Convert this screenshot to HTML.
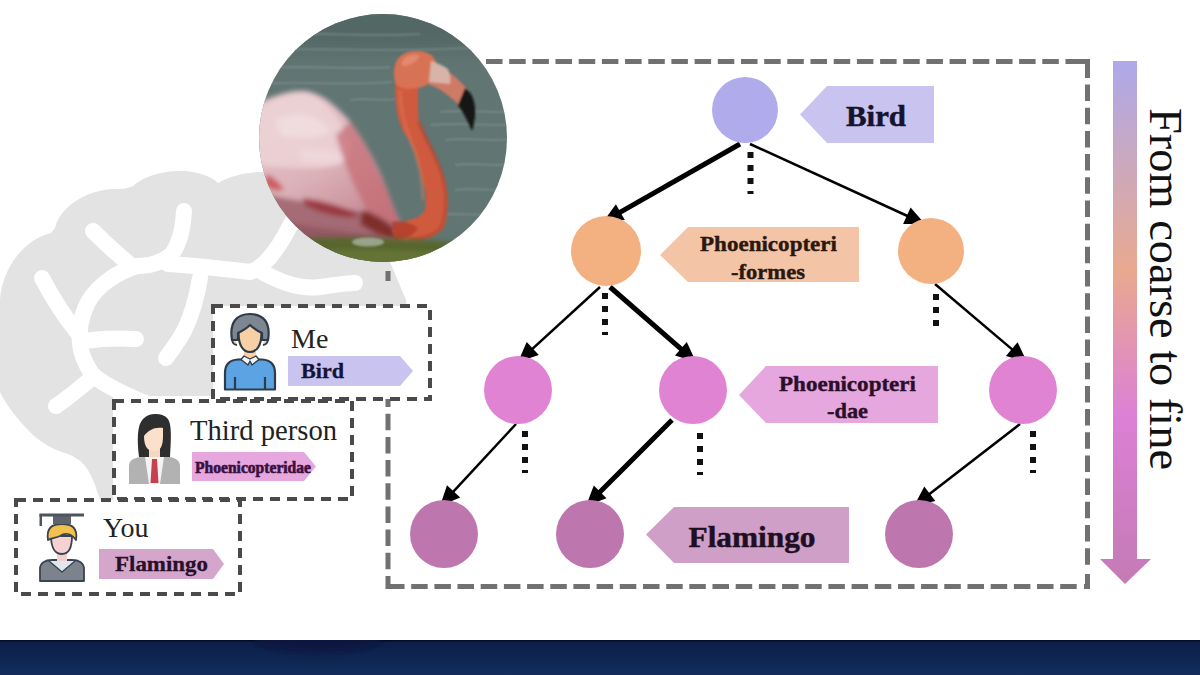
<!DOCTYPE html>
<html><head><meta charset="utf-8">
<style>
html,body{margin:0;padding:0;background:#fff;width:1200px;height:675px;overflow:hidden}
svg{display:block}
text{font-family:"Liberation Serif",serif}
</style></head>
<body>
<svg width="1200" height="675" viewBox="0 0 1200 675">
<defs>
  <linearGradient id="garrow" x1="0" y1="0" x2="0" y2="1">
    <stop offset="0" stop-color="#aea8ea"/>
    <stop offset="0.40" stop-color="#e9a98f"/>
    <stop offset="0.68" stop-color="#dc80d6"/>
    <stop offset="1" stop-color="#c47ab4"/>
  </linearGradient>
  <linearGradient id="gband" x1="0" y1="0" x2="0" y2="1">
    <stop offset="0" stop-color="#0c1e46"/>
    <stop offset="1" stop-color="#122c5c"/>
  </linearGradient>
  <filter id="fblur1" x="-20%" y="-20%" width="140%" height="140%"><feGaussianBlur stdDeviation="1.2"/></filter><filter id="fblur2" x="-20%" y="-20%" width="140%" height="140%"><feGaussianBlur stdDeviation="2.5"/></filter>
  <filter id="fblur3" x="-20%" y="-50%" width="140%" height="200%"><feGaussianBlur stdDeviation="10"/></filter>
  <linearGradient id="gbody" x1="0" y1="0" x2="0.6" y2="1">
    <stop offset="0" stop-color="#e8ccd0"/>
    <stop offset="0.55" stop-color="#dcb2b9"/>
    <stop offset="1" stop-color="#c0808a"/>
  </linearGradient>
  <clipPath id="cphoto"><circle cx="383" cy="138" r="124"/></clipPath>
  <marker id="ah" viewBox="0 0 10 10" refX="9" refY="5" markerWidth="5" markerHeight="5" markerUnits="userSpaceOnUse" orient="auto">
    <path d="M0,0 L10,5 L0,10 z" fill="#000"/>
  </marker>
</defs>

<!-- brain -->
<g id="brain">
  <path fill="#e4e3e4" d="M0,392 L0,300 C2,270 22,240 51,233 L55,228 C60,208 82,192 111,189 C120,189 127,189 133,186 C145,175 165,170 184,171 C200,172 212,177 218,183 C228,177 245,172 262,172 L330,185 L385,250 L406,300 L412,396 L113,396 L113,500 L100,500 C96,487 92,475 85,466 C80,460 74,456 65,453 C55,450 42,444 31,433 C18,420 6,405 0,392 Z"/>
  <g fill="none" stroke="#ffffff" stroke-width="16" stroke-linecap="round" stroke-linejoin="round">
    <path d="M184,211 C183,229 180,244 171,255 C161,263 148,266 137,266"/>
    <path d="M93,231 C104,242 116,253 128,263"/>
    <path d="M137,266 C117,272 98,285 88,302 C80,318 78,335 81,350 C84,362 89,370 94,376"/>
    <path d="M94,376 C106,386 125,395 150,405"/>
    <path d="M42,278 C52,297 63,315 77,332"/>
    <path d="M84,341 C99,339 118,338 136,339"/>
    <path d="M94,376 C80,388 68,398 56,406"/>
    <path d="M168,264 C200,266 225,269 250,272 C264,268 278,250 292,222"/>
    <path d="M262,272 C280,282 300,290 320,287 C335,285 345,283 355,283"/>
    <path d="M200,278 C197,296 192,315 184,331 C178,342 172,350 166,358"/>
  </g>
</g>
<!-- big dashed box -->
<path fill="#717171" d="M411.2,584.1h16.5v5.0h-16.5zM434.4,584.1h16.5v5.0h-16.5zM457.5,584.1h16.5v5.0h-16.5zM480.7,584.1h16.5v5.0h-16.5zM503.9,584.1h16.5v5.0h-16.5zM527.1,584.1h16.5v5.0h-16.5zM550.3,584.1h16.5v5.0h-16.5zM573.4,584.1h16.5v5.0h-16.5zM596.6,584.1h16.5v5.0h-16.5zM619.8,584.1h16.5v5.0h-16.5zM643.0,584.1h16.5v5.0h-16.5zM666.2,584.1h16.5v5.0h-16.5zM689.3,584.1h16.5v5.0h-16.5zM712.5,584.1h16.5v5.0h-16.5zM735.7,584.1h16.5v5.0h-16.5zM758.9,584.1h16.5v5.0h-16.5zM782.1,584.1h16.5v5.0h-16.5zM805.2,584.1h16.5v5.0h-16.5zM828.4,584.1h16.5v5.0h-16.5zM851.6,584.1h16.5v5.0h-16.5zM874.8,584.1h16.5v5.0h-16.5zM898.0,584.1h16.5v5.0h-16.5zM921.1,584.1h16.5v5.0h-16.5zM944.3,584.1h16.5v5.0h-16.5zM967.5,584.1h16.5v5.0h-16.5zM990.7,584.1h16.5v5.0h-16.5zM1013.9,584.1h16.5v5.0h-16.5zM1037.0,584.1h16.5v5.0h-16.5zM1060.2,584.1h16.5v5.0h-16.5zM1042.3,58.9h16.5v5.0h-16.5zM1019.1,58.9h16.5v5.0h-16.5zM996.0,58.9h16.5v5.0h-16.5zM972.8,58.9h16.5v5.0h-16.5zM949.6,58.9h16.5v5.0h-16.5zM926.4,58.9h16.5v5.0h-16.5zM903.2,58.9h16.5v5.0h-16.5zM880.1,58.9h16.5v5.0h-16.5zM856.9,58.9h16.5v5.0h-16.5zM833.7,58.9h16.5v5.0h-16.5zM810.5,58.9h16.5v5.0h-16.5zM787.3,58.9h16.5v5.0h-16.5zM764.2,58.9h16.5v5.0h-16.5zM741.0,58.9h16.5v5.0h-16.5zM717.8,58.9h16.5v5.0h-16.5zM694.6,58.9h16.5v5.0h-16.5zM671.4,58.9h16.5v5.0h-16.5zM648.3,58.9h16.5v5.0h-16.5zM625.1,58.9h16.5v5.0h-16.5zM601.9,58.9h16.5v5.0h-16.5zM578.7,58.9h16.5v5.0h-16.5zM555.5,58.9h16.5v5.0h-16.5zM532.4,58.9h16.5v5.0h-16.5zM509.2,58.9h16.5v5.0h-16.5zM486.0,58.9h16.5v5.0h-16.5zM1085.0,84.6h5.0v16.5h-5.0zM1085.0,107.8h5.0v16.5h-5.0zM1085.0,130.9h5.0v16.5h-5.0zM1085.0,154.1h5.0v16.5h-5.0zM1085.0,177.3h5.0v16.5h-5.0zM1085.0,200.5h5.0v16.5h-5.0zM1085.0,223.7h5.0v16.5h-5.0zM1085.0,246.8h5.0v16.5h-5.0zM1085.0,270.0h5.0v16.5h-5.0zM1085.0,293.2h5.0v16.5h-5.0zM1085.0,316.4h5.0v16.5h-5.0zM1085.0,339.6h5.0v16.5h-5.0zM1085.0,362.7h5.0v16.5h-5.0zM1085.0,385.9h5.0v16.5h-5.0zM1085.0,409.1h5.0v16.5h-5.0zM1085.0,432.3h5.0v16.5h-5.0zM1085.0,455.5h5.0v16.5h-5.0zM1085.0,478.6h5.0v16.5h-5.0zM1085.0,501.8h5.0v16.5h-5.0zM1085.0,525.0h5.0v16.5h-5.0zM1085.0,548.2h5.0v16.5h-5.0zM385.5,552.8h5.0v16.5h-5.0zM385.5,529.6h5.0v16.5h-5.0zM385.5,506.5h5.0v16.5h-5.0zM385.5,483.3h5.0v16.5h-5.0zM385.5,460.1h5.0v16.5h-5.0zM385.5,436.9h5.0v16.5h-5.0zM385.5,413.7h5.0v16.5h-5.0zM385.5,390.6h5.0v16.5h-5.0zM385.5,576V589.1H404.5V584.1H390.5V576zM1084.0,589.1H1090.0V574H1085.0V584.1H1084.0zM1065.5,58.9H1090.0V77.9H1085.0V63.9H1065.5z"/><rect x="385.5" y="271" width="5" height="10" fill="#717171"/>
<!-- photo -->
<g clip-path="url(#cphoto)">
  <rect x="255" y="10" width="260" height="260" fill="#617573"/>
  <rect x="255" y="0" width="260" height="50" fill="#536765" filter="url(#fblur3)"/>
  <g filter="url(#fblur1)" opacity="0.6" stroke="#8a9c9a" stroke-width="1.6" fill="none">
    <path d="M280,34 C320,32 360,37 420,34"/>
    <path d="M268,50 C330,47 370,53 470,48"/>
    <path d="M262,68 C300,65 360,70 390,67"/>
    <path d="M262,84 C300,81 340,86 392,82"/>
    <path d="M440,112 C470,109 490,114 510,111"/>
    <path d="M445,140 C470,137 490,142 510,139"/>
    <path d="M455,165 C475,162 495,167 510,164"/>
    <path d="M455,190 C475,187 495,192 510,189"/>
    <path d="M430,125 C470,122 490,127 510,124"/>
    <path d="M350,100 C370,97 380,102 395,99"/>
    <path d="M420,215 C460,212 490,217 510,214"/>
  </g>
  <!-- body -->
  <g filter="url(#fblur2)">
  <path fill="url(#gbody)" d="M250,106 C272,96 292,89 306,91 C320,94 330,100 348,119 C360,134 370,152 379,170 C386,186 392,205 401,223 C406,232 410,236 414,240 L400,246 L300,246 L250,250 Z"/>
  <path fill="#ecd2d6" opacity="0.85" d="M254,112 C272,100 292,92 308,94 C326,100 340,118 348,138 C352,152 348,162 335,166 C310,170 280,168 254,165 Z"/>
  <path fill="#f2e0e2" opacity="0.7" d="M275,120 C295,110 315,112 330,130 C320,140 300,140 280,135 Z"/>
  <path fill="#f0dadd" opacity="0.7" d="M300,150 C320,148 340,150 350,158 C335,164 315,164 300,160 Z"/>
  <path fill="#c46870" opacity="0.7" d="M350,122 C365,142 378,168 388,195 C394,212 400,225 408,236 L380,240 C372,222 364,204 354,185 C346,168 340,150 336,135 Z"/>
  <path fill="#c84a4e" opacity="0.8" d="M266,174 C272,176 280,182 284,190 C278,192 270,190 264,186 Z"/>
  <path fill="#a06670" opacity="0.9" d="M258,192 C290,200 330,206 365,212 C380,216 392,222 405,232 L410,250 L258,252 Z"/>
  <path fill="#983038" opacity="0.85" d="M302,198 C322,200 342,206 360,215 C350,220 328,216 306,206 Z"/>
  <path fill="#7a2420" opacity="0.85" d="M362,210 C372,212 384,220 394,228 L396,240 C384,238 372,232 360,224 Z"/>
  <path fill="#8e5560" opacity="0.8" d="M285,222 C320,228 350,232 380,236 L380,252 L285,252 Z"/>
  </g>
  <!-- neck -->
  <g filter="url(#fblur1)">
  <path fill="#d05a3c" d="M395,78 C395,95 396,110 399,120 C402,130 405,135 409,139 C413,146 415,152 416.6,158.5 C419,165 421,171 422,178 C424,185 426,190 426,197 C426,205 425,209 424,212 C420,217 414,219 409,220 C403,222 398,226 392,230 L398,241 C407,241 413,241 418.5,241 C425,240 436,236 443.6,228 C446,222 447,217 447,212.5 C448,207 448,202 447.4,197 C447,190 446,184 443.6,178 C441,171 439,165 436,158.5 C432,151 429,145 426,139 C422,132 419,126 418.5,120 C418,110 418,98 418,88 Z"/>
  <path fill="none" stroke="#b84a32" stroke-width="4" opacity="0.7" d="M419,122 C425,138 434,152 441,172 C447,190 447,210 442,226 C436,234 425,239 410,240"/>
  <path fill="none" stroke="#e27e60" stroke-width="4" opacity="0.35" d="M400,90 C400,110 404,125 411,142 C418,158 423,178 423,200"/>
  <path fill="#d87254" d="M395,82 C391,62 400,51 416,51 C430,51 438,58 437,70 C435,80 426,88 416,88 C406,90 397,88 395,82 Z"/>
  <path fill="#eb9a80" opacity="0.6" d="M402,62 C405,55 414,53 420,56 C416,62 410,66 402,66 Z"/>
  <!-- beak -->
  <path fill="#cf7a66" d="M430,62 C446,68 460,80 468,90 L460,106 C450,96 440,88 428,84 Z"/>
  <path fill="#d9beb4" d="M431,61 C438,63 444,66 448,69 C450,74 451,79 450,84 C444,83 436,83 429,82 Z" opacity="0.85"/>
  <path fill="#121212" d="M465,88 C473,93 476,104 475,116 C474,124 473,128 472,131 C468,121 463,112 458,105 Z"/>
  <path fill="#b23c2c" opacity="0.8" d="M392,222 C400,220 410,222 418,228 C414,236 404,240 394,240 Z"/>
  </g>
  <path d="M300,238 C350,236 400,238 470,243 L480,270 L300,270Z" fill="#58662e" filter="url(#fblur2)"/>
  <path d="M330,250 C370,248 400,250 440,252 L440,270 L330,270Z" fill="#6a7a3a" opacity="0.7" filter="url(#fblur2)"/>
  <ellipse cx="368" cy="242" rx="16" ry="4.5" fill="#a8b4a2" opacity="0.8" filter="url(#fblur1)"/>
</g>
<!-- person boxes -->
<g fill="#fff" stroke="#4a4a4a" stroke-width="4" stroke-dasharray="10 7">
  <rect x="213" y="306" width="217" height="93"/>
  <rect x="114" y="401" width="238" height="98"/>
  <rect x="16" y="500" width="224" height="94"/>
</g>

<!-- tree edges -->
<line x1="740" y1="144" x2="618.6" y2="213.1" stroke="#000" stroke-width="5"/><path d="M603.0,222.0 L615.9,204.3 L624.8,219.9 Z" fill="#000"/><line x1="750" y1="144" x2="908.6" y2="216.5" stroke="#000" stroke-width="2.5"/><path d="M925.0,224.0 L903.1,223.9 L910.6,207.5 Z" fill="#000"/><line x1="600" y1="287" x2="531.3" y2="349.9" stroke="#000" stroke-width="2.5"/><path d="M518.0,362.0 L526.7,341.9 L538.8,355.1 Z" fill="#000"/><line x1="610" y1="287" x2="682.4" y2="350.2" stroke="#000" stroke-width="5"/><path d="M696.0,362.0 L675.0,355.6 L686.8,342.1 Z" fill="#000"/><line x1="935" y1="284" x2="1013.3" y2="350.4" stroke="#000" stroke-width="2.5"/><path d="M1027.0,362.0 L1005.9,355.9 L1017.6,342.2 Z" fill="#000"/><line x1="516" y1="424" x2="452.2" y2="492.8" stroke="#000" stroke-width="2.5"/><path d="M440.0,506.0 L447.0,485.2 L460.2,497.4 Z" fill="#000"/><line x1="672" y1="420" x2="598.7" y2="493.3" stroke="#000" stroke-width="5"/><path d="M586.0,506.0 L593.8,485.5 L606.5,498.2 Z" fill="#000"/><line x1="1020" y1="424" x2="928.2" y2="495.0" stroke="#000" stroke-width="2.5"/><path d="M914.0,506.0 L924.3,486.6 L935.3,500.9 Z" fill="#000"/>
<!-- dotted -->
<g stroke="#111" stroke-width="6" stroke-dasharray="6 7">
  <line x1="750.5" y1="152" x2="750.5" y2="194"/>
  <line x1="605" y1="293" x2="605" y2="335"/>
  <line x1="936" y1="294" x2="936" y2="327"/>
  <line x1="525" y1="431" x2="525" y2="473"/>
  <line x1="700" y1="433" x2="700" y2="475"/>
  <line x1="1033" y1="431" x2="1033" y2="473"/>
</g>

<!-- nodes -->
<circle cx="745" cy="110" r="33" fill="#b0acec"/>
<circle cx="606" cy="251" r="35" fill="#f3b081"/>
<circle cx="931" cy="251" r="33" fill="#f3b081"/>
<circle cx="518" cy="390" r="34" fill="#e083d2"/>
<circle cx="693" cy="390" r="34" fill="#e083d2"/>
<circle cx="1023" cy="390" r="34" fill="#e083d2"/>
<circle cx="444" cy="534" r="34" fill="#be76ae"/>
<circle cx="590" cy="534" r="34" fill="#be76ae"/>
<circle cx="919" cy="534" r="34" fill="#be76ae"/>

<!-- labels -->
<path d="M800,114.5 L827,86 L934,86 L934,143 L827,143 Z" fill="#c9c3f0"/>
<text x="846" y="126" font-size="30" font-weight="bold" fill="#14142e" stroke="#14142e" stroke-width="0.5" textLength="60" lengthAdjust="spacingAndGlyphs">Bird</text>
<path d="M660,255 L688,227 L859,227 L859,282 L688,282 Z" fill="#f4c4a7"/>
<text x="700" y="251" font-size="22" font-weight="bold" fill="#2a1810" stroke="#2a1810" stroke-width="0.4" textLength="137" lengthAdjust="spacingAndGlyphs">Phoenicopteri</text>
<text x="731" y="279" font-size="22" font-weight="bold" fill="#2a1810" stroke="#2a1810" stroke-width="0.4" textLength="74" lengthAdjust="spacingAndGlyphs">-formes</text>
<path d="M739,395 L766,366 L938,366 L938,423 L766,423 Z" fill="#e6a6de"/>
<text x="779" y="390.5" font-size="22" font-weight="bold" fill="#2a0f2a" stroke="#2a0f2a" stroke-width="0.4" textLength="137" lengthAdjust="spacingAndGlyphs">Phoenicopteri</text>
<text x="827" y="418" font-size="22" font-weight="bold" fill="#2a0f2a" stroke="#2a0f2a" stroke-width="0.4" textLength="41" lengthAdjust="spacingAndGlyphs">-dae</text>
<path d="M646,534.5 L674,507 L849,507 L849,563 L674,563 Z" fill="#cf9fc8"/>
<text x="688.5" y="547" font-size="30" font-weight="bold" fill="#1e0f22" stroke="#1e0f22" stroke-width="0.5" textLength="127" lengthAdjust="spacingAndGlyphs">Flamingo</text>

<!-- right arrow -->
<path d="M1113,61 L1137,61 L1137,559 L1151,559 L1125,584 L1100,559 L1113,559 Z" fill="url(#garrow)"/>
<text transform="translate(1150,108) rotate(90)" font-size="46" fill="#111" textLength="362" lengthAdjust="spacingAndGlyphs">From coarse to fine</text>

<!-- person: Me -->
<g id="me" stroke="#2f3b48" stroke-width="2.2" stroke-linejoin="round">
  <path d="M225,389.5 L225,373 C225,364 230,360 238,359.5 L262,359.5 C270,360 275,364 275,373 L275,389.5 Z" fill="#5ba3e2"/>
  <path d="M235,377 L235,389 M265,377 L265,389" fill="none"/>
  <path d="M244,350 L244,359 L256,359 L256,350 Z" fill="#f9cfa6" stroke="none"/>
  <path d="M241,359.5 L248,365 L250,361 L252,365 L259,359.5 L256,356 L250,359 L244,356 Z" fill="#f4f4f4" stroke-width="1.3"/>
  <path d="M235,337 C231,337 231,344 237,345 M265,337 C269,337 269,344 263,345" fill="#f9cfa6" stroke-width="1.8"/>
  <path d="M238.5,324 L238.5,333 C238.5,345 243,352 250,352 C257,352 261.5,345 261.5,333 L261.5,324 Z" fill="#f9cfa6"/>
  <path d="M232,340 C229,322 237,314 250,314 C263,314 271,322 268,340 L262,340 L262,333 C258,331 254,329 250,325 C246,329 242,331 238,333 L238,340 Z" fill="#7d8791"/>
</g>
<text x="291" y="348" font-size="28" fill="#222">Me</text>
<path d="M288,356 L400,356 L413,371 L400,386 L288,386 Z" fill="#c8c4ef"/>
<text x="301" y="378" font-size="21.5" font-weight="bold" fill="#14143a" stroke="#14143a" stroke-width="0.3" textLength="43" lengthAdjust="spacingAndGlyphs">Bird</text>

<!-- person: Third -->
<g id="third">
  <path d="M139,457 C137,440 137,425 143,419 C147,415 151,414 155,414 C160,414 165,415 168,419 C172,425 171,440 170,457 Z" fill="#2e2e2e"/>
  <path d="M129,484 L129,466 C129,461 133,458 140,457 L170,457 C176,458 180,461 180,466 L180,484 Z" fill="#b2b2b2"/>
  <path d="M149,448 L149,458 L160,458 L160,448 Z" fill="#f7d7c0"/>
  <path d="M145,457 L164,457 L160,484 L149,484 Z" fill="#f6f2f2"/>
  <path d="M144,436 C144,447 148,451 154,451 C160,451 163,447 163,436 L163,428 C158,427 153,428 149,431 C147,433 145,434 144,436 Z" fill="#fbe1cb"/>
  <path d="M152,459 L157,459 L158.5,483 L150.5,483 Z" fill="#c3424e"/>
</g>
<text x="190" y="439.5" font-size="28.5" fill="#222" textLength="147" lengthAdjust="spacingAndGlyphs">Third person</text>
<path d="M192,452 L304,452 L316,466.5 L304,481 L192,481 Z" fill="#e6a6de"/>
<text x="195" y="473" font-size="16" font-weight="bold" fill="#3a1040" stroke="#3a1040" stroke-width="0.6" textLength="116" lengthAdjust="spacingAndGlyphs">Phoenicopteridae</text>

<!-- person: You -->
<g id="you" stroke="#3a4350" stroke-width="1.8" stroke-linejoin="round">
  <path d="M40,581 L40,569 C40,563 45,560 52,560 L72,560 C79,560 84,563 84,569 L84,581 Z" fill="#7c838d"/>
  <path d="M49,561 L62,572 L75,561" fill="#dfe6ee" stroke-width="1.4"/>
  <path d="M57,552 L57,561 L67,561 L67,552 Z" fill="#f2d0cf" stroke="none"/>
  <path d="M51,536 C51,549 56,554 62,554 C68,554 72,549 72,536 Z" fill="#f5d2d2"/>
  <path d="M48,540 C46,528 52,524 62,524 C72,524 78,528 76,540 C72,534 66,532 60,536 C55,538 52,538 48,540 Z" fill="#f1c04d"/>
  <path d="M53,516 L71,516 L71,524 L53,524 Z" fill="#5e646c" stroke="none"/>
  <path d="M39.5,513.5 L84,513.5 L84,516.5 L39.5,516.5 Z" fill="#4e545c" stroke="none"/>
  <path d="M39.5,514 L42,514 L42,526 L39.5,526 Z" fill="#4e545c" stroke="none"/>
</g>
<text x="103" y="536.6" font-size="28" fill="#222">You</text>
<path d="M99,549 L213,549 L224,564 L213,579 L99,579 Z" fill="#d4a6cc"/>
<text x="115" y="571" font-size="22" font-weight="bold" fill="#2a0f2a" stroke="#2a0f2a" stroke-width="0.3" textLength="93" lengthAdjust="spacingAndGlyphs">Flamingo</text>

<!-- bottom band -->
<rect x="0" y="640" width="1200" height="35" fill="url(#gband)"/><rect x="0" y="640" width="1200" height="1.5" fill="#020c26"/>
<clipPath id="cband"><rect x="0" y="640" width="1200" height="35"/></clipPath><g clip-path="url(#cband)"><ellipse filter="url(#fblur2)" cx="318" cy="638" rx="64" ry="14" fill="#0a1640" opacity="0.9"/></g>
</svg>
</body></html>
